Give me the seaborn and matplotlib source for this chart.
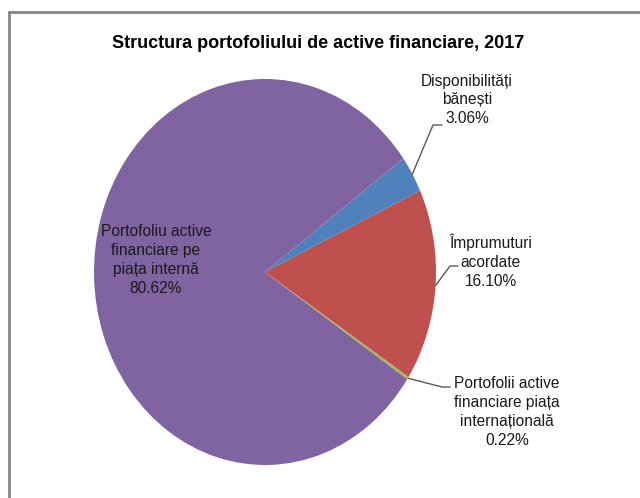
import numpy as np
import matplotlib
matplotlib.use("Agg")
import matplotlib.pyplot as plt
import seaborn as sns
from matplotlib.lines import Line2D

# data
categories = ["Disponibilități bănești", "Împrumuturi acordate",
              "Portofolii active financiare piața internațională",
              "Portofoliu active financiare pe piața internă"]
shares = [3.06, 16.10, 0.22, 80.62]
label_lines = ["Disponibilități\nbănești", "Împrumuturi\nacordate",
               "Portofolii active\nfinanciare piața\ninternațională",
               "Portofoliu active\nfinanciare pe\npiața internă"]
colors = ["#4F81BD", "#C0504D", "#9BBB59", "#8064A2"]
title = "Structura portofoliului de active financiare, 2017"

sns.set_theme(style="white")
plt.rcParams["font.family"] = ["Liberation Sans", "DejaVu Sans"]

W, H = 640, 498
cx, cy, rx, ry = 265, 272, 171, 193   # pie centre / radii in pixels


def to_data(px, py):
    return (px - cx) / rx, (cy - py) / ry


fig = plt.figure(figsize=(W / 100, H / 100), dpi=100)
fig.patch.set_facecolor("white")

# chart border (cropped on right and bottom like the reference)
fig.add_artist(Line2D([9 / W, 9 / W], [0, 1 - 12 / H], color="#858585", lw=2))
fig.add_artist(Line2D([9 / W, 1], [1 - 12 / H, 1 - 12 / H], color="#858585", lw=2))

ax = fig.add_axes([0, 0, 1, 1])
wedges, _ = ax.pie(shares, colors=colors, startangle=36, counterclock=False,
                   wedgeprops=dict(linewidth=0))
ax.set_aspect("auto")
ax.set_xlim(-cx / rx, (W - cx) / rx)
ax.set_ylim((cy - H) / ry, cy / ry)
ax.axis("off")
ax.patch.set_alpha(0)

# label layout: (elbow px, end px, text centre px); None = inside label
layout = [((433, 125), (442, 125), (467, 100)),
          ((450, 266), (458, 266), (491, 261)),
          ((442, 387), (450, 387), (507, 412)),
          (None, None, (156, 260))]

for w, val, txt, (elb, end, tc) in zip(wedges, shares, label_lines, layout):
    tx, ty = to_data(*tc)
    ax.text(tx, ty, f"{txt}\n{val:.2f}%", ha="center", va="center",
            fontsize=11.2, linespacing=1.32, color="#1a1a1a")
    if elb is None:
        continue
    mid = np.deg2rad((w.theta1 + w.theta2) / 2)
    ex, ey = to_data(*elb)
    nx, ny = to_data(*end)
    ax.plot([np.cos(mid), ex, nx], [np.sin(mid), ey, ny], color="#595959", lw=1)

fig.text(318 / W, 1 - 43 / H, title, ha="center", va="center",
         fontsize=13, fontweight="bold", color="#000000")

fig.savefig("out.png", dpi=100)
